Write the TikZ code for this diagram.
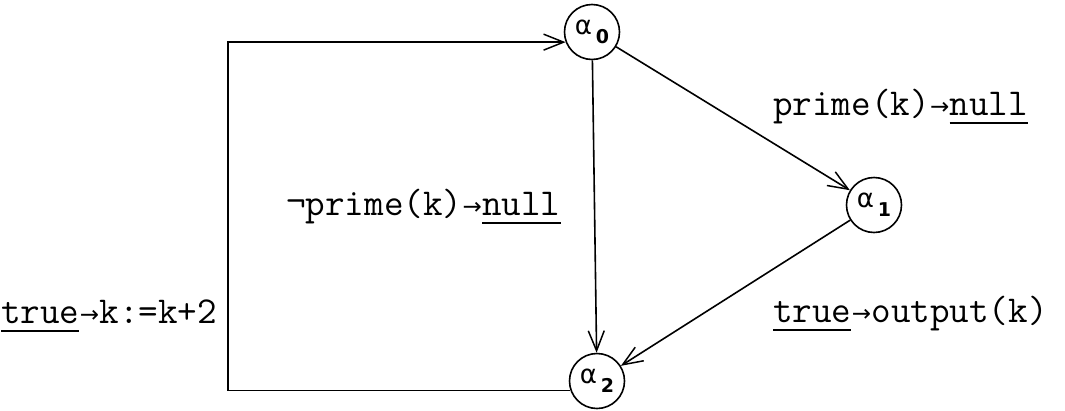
\documentclass[tikz,border=0pt]{standalone}
\usepackage{fontspec}
\newfontfamily\greekfont{DejaVu Sans}
\newfontfamily\digitfont{DejaVu Sans Bold}
\usetikzlibrary{arrows.meta}
% underlined keyword, typewriter style
\newcommand\ulword[1]{\setbox0\hbox{#1}\rlap{\rule[-9pt]{\wd0}{1.8pt}}\box0}
% small arrow filling one typewriter cell
\newcommand\tarr{\makebox[0.525em][c]{\greekfont\fontsize{23}{23}\selectfont\raisebox{1pt}{→}}}
% state name: alpha with a lowered index
\newcommand\stname[1]{{\greekfont\fontsize{26}{28}\selectfont α}\hspace{4pt}\raisebox{-9pt}{\digitfont\fontsize{19}{20}\selectfont #1}}
\begin{document}
\begin{tikzpicture}[x=1pt,y=-1pt,
  vtx/.style={circle, draw, line width=1.6pt, minimum size=55pt, inner sep=0pt},
  conn/.style={line width=1.6pt, -{Straight Barb[length=20pt,width=16pt,line width=1.5pt]}},
  lbl/.style={inner sep=0pt, anchor=base west, font=\ttfamily\fontsize{38}{40}\selectfont}]
\useasboundingbox (0,0) rectangle (1065,410);

% states
\node[vtx] (a0) at (592,32) {\stname{0}};
\node[vtx] (a1) at (874,205) {\stname{1}};
\node[vtx] (a2) at (597,381) {\stname{2}};

% transitions
\draw[conn] (a0) -- (a1);
\draw[conn] (a0) -- (a2);
\draw[conn] (a1) -- (a2);
\coordinate (cl) at (228,200);
\draw[conn] (a2.200) -| (cl) |- (a0.201);

% transition labels
\node[lbl] (t01) at (773,115) {prime(k)\tarr\ulword{null}};
\node[lbl] (t02) at (286,215) {¬prime(k)\tarr\ulword{null}};
\node[lbl] (t12) at (773,322) {\ulword{true}\tarr output(k)};
\node[lbl] (t20) at (1,323) {\ulword{true}\tarr k:=k+2};
\end{tikzpicture}
\end{document}
